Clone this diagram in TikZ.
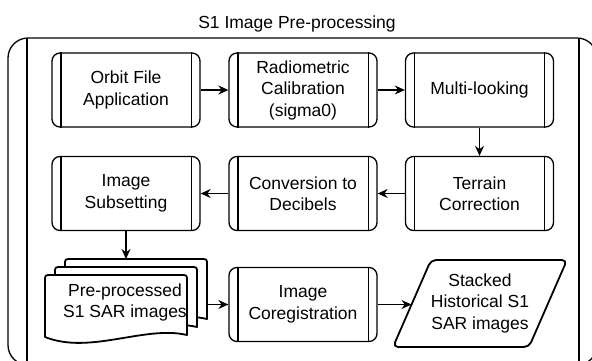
\documentclass[tikz,border=0pt]{standalone}
\usepackage{fontspec}
\setmainfont{Liberation Sans}
\usetikzlibrary{arrows.meta}

% one sheet of the stacked-document symbol: #1,#2 = top-left corner
\newcommand\docsheet[2]{%
  \filldraw[fill=white, line width=1.8pt, line join=round]
    (#1,#2+62) -- (#1,#2+6) .. controls (#1,#2) .. (#1+6,#2)
    -- (#1+136,#2) .. controls (#1+142,#2) .. (#1+142,#2+6)
    -- (#1+142,#2+60)
    .. controls (#1+100,#2+50) and (#1+45,#2+80) .. (#1,#2+62) -- cycle;}

\begin{document}
\begin{tikzpicture}[x=1pt,y=-1pt,
  txt/.style={font=\fontsize{17.5}{21.5}\selectfont, align=center},
  procbox/.style={txt, draw, line width=1.3pt, rounded corners=8pt,
    minimum width=148pt, minimum height=74pt, inner sep=0pt},
  link/.style={line width=1.3pt, -{Stealth[length=10pt,width=9pt]}}]

\clip (0,0) rectangle (592,360);

% outer container with its two inner side lines
\draw[line width=1.3pt, rounded corners=20pt] (8,38) rectangle (597,365);
\draw[line width=1.3pt] (27,38) -- (27,365) (579,38) -- (579,365);
\node[txt] (title) at (297,24) {S1 Image Pre-processing};

% processing steps
\node[procbox] (orbit)   at (126,90)    {Orbit File\\Application};
\node[procbox] (radio)   at (303,90)    {Radiometric\\Calibration\\(sigma0)};
\node[procbox] (multi)   at (479.5,90)  {Multi-looking};
\node[procbox] (terrain) at (479.5,193.5) {Terrain\\Correction};
\node[procbox] (decib)   at (303,193.5) {Conversion to\\Decibels};
\node[procbox] (subset)  at (126,193.5) {Image\\Subsetting};
\node[procbox] (coreg)   at (303,304.5) {Image\\Coregistration};

\foreach \n in {orbit,radio,multi,terrain,decib,subset,coreg}
  \draw[line width=1.3pt]
    ([xshift=9.5pt]\n.north west) -- ([xshift=9.5pt]\n.south west)
    ([xshift=-9.5pt]\n.north east) -- ([xshift=-9.5pt]\n.south east);

% stack of pre-processed images
\docsheet{65}{259}
\docsheet{55}{267}
\docsheet{45}{275}
\node[txt] (stack) at (125,302.5) {Pre-processed\\S1 SAR images};
\coordinate (stacktop) at (126,259);
\coordinate (stackright) at (207,304.5);

% stacked historical data (parallelogram)
\draw[line width=1.8pt, rounded corners=5pt, line join=round]
  (431,260) -- (567,260) -- (529,347) -- (393,347) -- cycle;
\node[txt] (hist) at (480,303) {Stacked\\Historical S1\\SAR images};
\coordinate (histleft) at (411.5,304.5);

% connectors
\draw[link] (orbit) -- (radio);
\draw[link] (radio) -- (multi);
\draw[link] (multi) -- (terrain);
\draw[link] (terrain) -- (decib);
\draw[link] (decib) -- (subset);
\draw[link] (subset.south) -- (stacktop);
\draw[link] (stackright) -- (coreg.west);
\draw[link] (coreg.east) -- (histleft);
\end{tikzpicture}
\end{document}
